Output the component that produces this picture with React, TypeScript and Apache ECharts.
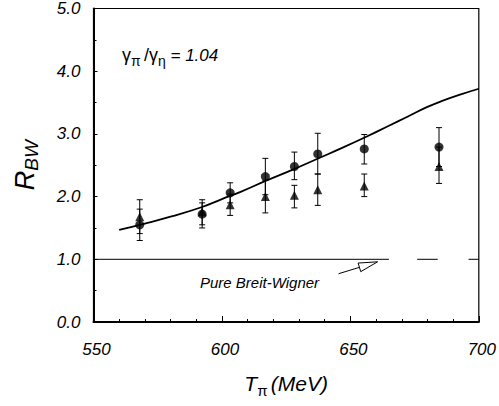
import React, { useEffect, useRef } from "react";
import * as echarts from "echarts";

// Kinetic energy T_pi (MeV) of the data points
const tPi = [568.0, 592.3, 603.2, 616.9, 628.2, 637.3, 655.4, 684.5];
// Circles
const circleR = [1.55, 1.72, 2.06, 2.32, 2.48, 2.68, 2.76, 2.79];
const circleLo = [1.3, 1.5, 1.9, 2.03, 2.27, 2.36, 2.52, 2.48];
const circleHi = [1.8, 1.9, 2.22, 2.61, 2.71, 3.01, 2.99, 3.1];
// Triangles
const triR = [1.68, 1.76, 1.87, 2.0, 2.02, 2.11, 2.17, 2.48];
const triLo = [1.41, 1.55, 1.7, 1.74, 1.82, 1.86, 2.0, 2.21];
const triHi = [1.95, 1.95, 2.04, 2.26, 2.18, 2.36, 2.36, 2.79];
// Model curve
const curveT = [560, 570, 580, 592, 600, 607.5, 617, 627.6, 637, 647, 657, 665, 672, 680, 686, 693, 700];
const curveR = [1.47, 1.57, 1.68, 1.83, 1.96, 2.08, 2.25, 2.43, 2.6, 2.78, 2.97, 3.13, 3.27, 3.43, 3.53, 3.63, 3.72];
// Pure Breit-Wigner level (drawn in segments as in the scan)
const bwT = [550, 665, 670, 676, 684, 690, 696, 700];
const bwR: (number | string)[] = [1, 1, "-", 1, 1, "-", 1, 1];
// Arrow annotation (from, to) in data units
const arrowFrom = [645.4, 0.77];
const arrowTo = [660.6, 0.96];
// Axis ticks
const xTicks = { min: 550, max: 700, interval: 50 };
const yTicks = { min: 0, max: 5, interval: 1 };

const FONT = '"Liberation Sans", Arial, Helvetica, sans-serif';

export default function App() {
  const ref = useRef<HTMLDivElement>(null);
  useEffect(() => {
    document.body.style.margin = "0";
    const chart = echarts.init(ref.current!, null, { renderer: "svg" });
    const errStyle = { stroke: "#000", lineWidth: 1 };
    const errRender = (params: any, api: any) => {
      const x = api.value(0);
      const pLo = api.coord([x, api.value(1)]);
      const pHi = api.coord([x, api.value(2)]);
      const cap = 3;
      return {
        type: "group",
        children: [
          { type: "line", shape: { x1: pLo[0], y1: pLo[1], x2: pHi[0], y2: pHi[1] }, style: errStyle },
          { type: "line", shape: { x1: pLo[0] - cap, y1: pLo[1], x2: pLo[0] + cap, y2: pLo[1] }, style: errStyle },
          { type: "line", shape: { x1: pHi[0] - cap, y1: pHi[1], x2: pHi[0] + cap, y2: pHi[1] }, style: errStyle },
        ],
      };
    };
    const option: any = {
      animation: false,
      grid: {
        left: 92,
        right: 20,
        top: 8,
        bottom: 84,
        show: true,
        borderColor: "#000",
        borderWidth: 1.2,
      },
      xAxis: {
        type: "value",
        min: xTicks.min,
        max: xTicks.max,
        interval: xTicks.interval,
        axisLine: { onZero: false, lineStyle: { color: "#000", width: 2 } },
        axisTick: { inside: true, length: 6, lineStyle: { color: "#000", width: 1 } },
        minorTick: { show: true, splitNumber: 5, length: 3, lineStyle: { color: "#000", width: 1 } },
        splitLine: { show: false },
        axisLabel: {
          margin: 19,
          color: "#000",
          fontSize: 17,
          fontStyle: "italic",
          fontFamily: FONT,
          padding: [0, 0, 0, 6],
        },
        name: "{t|T}{s|π} {t|(MeV)}",
        nameLocation: "middle",
        nameGap: 49,
        nameTextStyle: {
          color: "#000",
          rich: {
            t: { fontSize: 21, fontStyle: "italic", fontFamily: FONT, lineHeight: 24, verticalAlign: "middle" },
            s: { fontSize: 15, fontFamily: FONT, lineHeight: 15, padding: [14, 0, 0, 0], verticalAlign: "middle" },
          },
        },
      },
      yAxis: {
        type: "value",
        min: yTicks.min,
        max: yTicks.max,
        interval: yTicks.interval,
        axisLine: { show: true, onZero: false, lineStyle: { color: "#000", width: 2 } },
        axisTick: { show: true, inside: true, length: 4, lineStyle: { color: "#000", width: 1 } },
        minorTick: { show: true, splitNumber: 2, length: 3, lineStyle: { color: "#000", width: 1 } },
        splitLine: { show: false },
        axisLabel: {
          margin: 13,
          color: "#000",
          fontSize: 17,
          fontStyle: "italic",
          fontFamily: FONT,
          padding: [12, 0, 0, 0],
          formatter: (v: number) => v.toFixed(1),
        },
        name: "{r|R}{s|BW}",
        nameLocation: "middle",
        nameRotate: 90,
        nameGap: 55,
        nameTextStyle: {
          color: "#000",
          rich: {
            r: { fontSize: 27, fontStyle: "italic", fontFamily: FONT, lineHeight: 28, verticalAlign: "middle" },
            s: { fontSize: 19, fontStyle: "italic", fontFamily: FONT, lineHeight: 18, padding: [14, 0, 0, 0], verticalAlign: "middle" },
          },
        },
      },
      graphic: [
        {
          type: "text",
          x: 122,
          y: 55,
          style: {
            text: "{g|γ}{s|π} {g|/γ}{s|η}{n| = 1.04}",
            verticalAlign: "middle",
            fill: "#000",
            rich: {
              g: { fontSize: 18, fontFamily: FONT, lineHeight: 20, verticalAlign: "middle" },
              s: { fontSize: 14, fontFamily: FONT, lineHeight: 12, padding: [12, 0, 0, 0], verticalAlign: "middle" },
              n: { fontSize: 17, fontStyle: "italic", fontFamily: FONT, lineHeight: 20, verticalAlign: "middle" },
            },
          },
        },
        {
          type: "text",
          x: 200,
          y: 282,
          style: {
            text: "Pure Breit-Wigner",
            font: `italic 15px ${FONT}`,
            fill: "#000",
            verticalAlign: "middle",
          },
        },
      ],
      series: [
        {
          type: "line",
          data: bwT.map((t, i) => [t, bwR[i]]),
          connectNulls: false,
          showSymbol: false,
          symbol: "none",
          lineStyle: { color: "#000", width: 1 },
          z: 1,
        },
        {
          type: "line",
          data: curveT.map((t, i) => [t, curveR[i]]),
          smooth: 0.5,
          showSymbol: false,
          symbol: "none",
          lineStyle: { color: "#000", width: 1.8 },
          z: 2,
        },
        {
          type: "custom",
          renderItem: errRender,
          data: tPi.map((t, i) => [t, circleLo[i], circleHi[i]]),
          encode: { x: 0, y: [1, 2] },
          z: 3,
        },
        {
          type: "custom",
          renderItem: errRender,
          data: tPi.map((t, i) => [t, triLo[i], triHi[i]]),
          encode: { x: 0, y: [1, 2] },
          z: 3,
        },
        {
          type: "scatter",
          data: tPi.map((t, i) => [t, triR[i]]),
          symbol: "triangle",
          symbolSize: 9,
          itemStyle: { color: "#000" },
          z: 4,
        },
        {
          type: "scatter",
          data: tPi.map((t, i) => [t, circleR[i]]),
          symbol: "circle",
          symbolSize: 9,
          itemStyle: { color: "#000" },
          z: 5,
        },
        {
          type: "custom",
          data: [[arrowFrom[0], arrowFrom[1], arrowTo[0], arrowTo[1]]],
          encode: { x: [0, 2], y: [1, 3] },
          z: 6,
          renderItem: (params: any, api: any) => {
            const p0 = api.coord([api.value(0), api.value(1)]);
            const p1 = api.coord([api.value(2), api.value(3)]);
            const dx = p1[0] - p0[0];
            const dy = p1[1] - p0[1];
            const len = Math.sqrt(dx * dx + dy * dy);
            const ux = dx / len;
            const uy = dy / len;
            const hl = 19;
            const hw = 4.5;
            const bx = p1[0] - ux * hl;
            const by = p1[1] - uy * hl;
            return {
              type: "group",
              children: [
                { type: "line", shape: { x1: p0[0], y1: p0[1], x2: bx, y2: by }, style: { stroke: "#000", lineWidth: 1 } },
                {
                  type: "polygon",
                  shape: {
                    points: [
                      [p1[0], p1[1]],
                      [bx - uy * hw, by + ux * hw],
                      [bx + uy * hw, by - ux * hw],
                    ],
                  },
                  style: { fill: "#fff", stroke: "#000", lineWidth: 1 },
                },
              ],
            };
          },
        },
      ],
    };
    chart.setOption(option);
    return () => chart.dispose();
  }, []);
  return <div ref={ref} style={{ width: 499, height: 406 }} />;
}
